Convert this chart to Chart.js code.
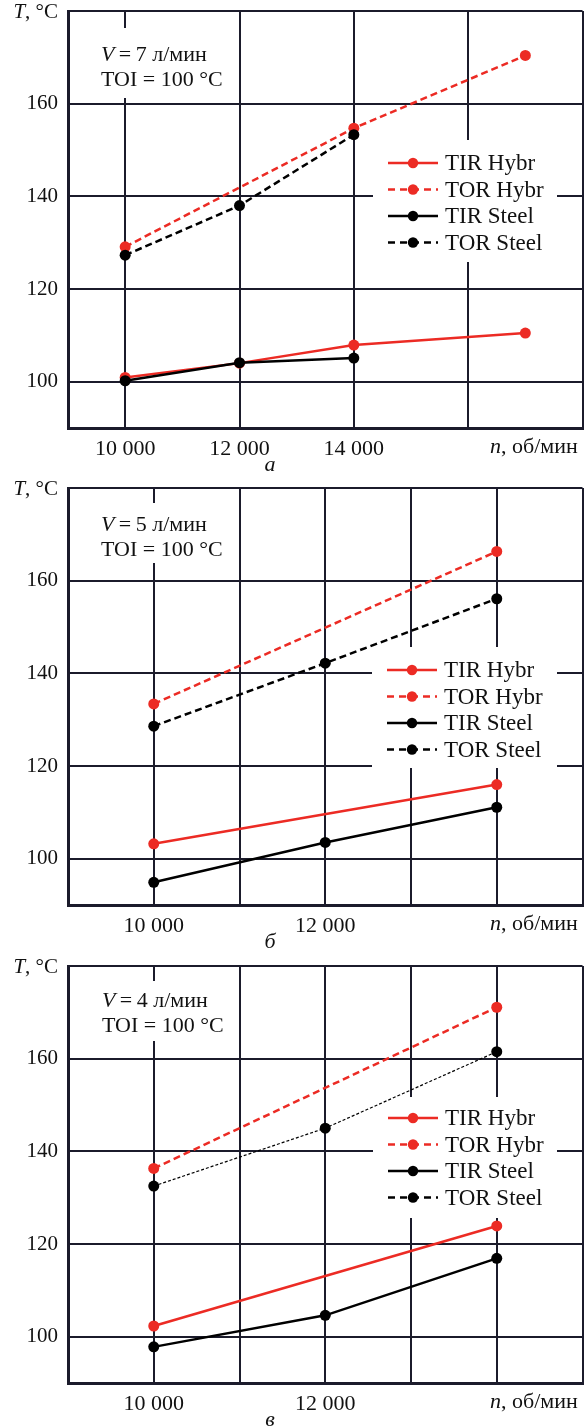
<!DOCTYPE html>
<html><head><meta charset="utf-8">
<script src="https://cdn.jsdelivr.net/npm/chart.js@4.4.1/dist/chart.umd.min.js"></script>
<style>
html,body{margin:0;padding:0;background:#fff;overflow:hidden;width:588px;height:1427px}
.panel{position:absolute;left:0;width:588px;height:477px}
canvas{display:block}
</style></head><body>
<div class="panel" style="top:0"><canvas id="cA" width="588" height="477"></canvas></div>
<div class="panel" style="top:477px"><canvas id="cB" width="588" height="477"></canvas></div>
<div class="panel" style="top:955px"><canvas id="cC" width="588" height="477"></canvas></div>
<script>
// ---------- DATA ----------
const seriesNames = ['TIR Hybr', 'TOR Hybr', 'TIR Steel', 'TOR Steel'];
const yTicks = [100, 120, 140, 160, 180];

// Panel а : V = 7 л/мин
const a_xTicks = [10000, 12000, 14000, 16000, 18000];
const a_xLabels = ['10 000', '12 000', '14 000', '', ''];
const a_TIR_Hybr_rpm = [10000, 12000, 14000, 17000];
const a_TIR_Hybr_T   = [100.9, 104.0, 107.9, 110.5];
const a_TOR_Hybr_rpm = [10000, 14000, 17000];
const a_TOR_Hybr_T   = [129.1, 154.7, 170.4];
const a_TIR_Steel_rpm = [10000, 12000, 14000];
const a_TIR_Steel_T   = [100.2, 104.1, 105.1];
const a_TOR_Steel_rpm = [10000, 12000, 14000];
const a_TOR_Steel_T   = [127.3, 138.0, 153.3];

// Panel б : V = 5 л/мин
const b_xTicks = [10000, 11000, 12000, 13000, 14000, 15000];
const b_xLabels = ['10 000', '', '12 000', '', '', ''];
const b_TIR_Hybr_rpm = [10000, 14000];
const b_TIR_Hybr_T   = [103.2, 116.0];
const b_TOR_Hybr_rpm = [10000, 14000];
const b_TOR_Hybr_T   = [133.4, 166.3];
const b_TIR_Steel_rpm = [10000, 12000, 14000];
const b_TIR_Steel_T   = [94.9, 103.5, 111.1];
const b_TOR_Steel_rpm = [10000, 12000, 14000];
const b_TOR_Steel_T   = [128.6, 142.2, 156.1];

// Panel в : V = 4 л/мин
const c_xTicks = [10000, 11000, 12000, 13000, 14000, 15000];
const c_xLabels = ['10 000', '', '12 000', '', '', ''];
const c_TIR_Hybr_rpm = [10000, 14000];
const c_TIR_Hybr_T   = [102.3, 123.9];
const c_TOR_Hybr_rpm = [10000, 14000];
const c_TOR_Hybr_T   = [136.3, 171.1];
const c_TIR_Steel_rpm = [10000, 12000, 14000];
const c_TIR_Steel_T   = [97.8, 104.6, 116.9];
const c_TOR_Steel_rpm = [10000, 12000, 14000];
const c_TOR_Steel_T   = [132.5, 145.0, 161.5];

// ---------- STYLE ----------
const RED = '#ec2b24';
const BLK = '#000000';
const GRID = '#1b1b2b';
const TXT = '#111111';
const FAM = "'Liberation Serif', 'DejaVu Serif', serif";

function pts(xs, ys) { return xs.map((x, i) => ({x: x, y: ys[i]})); }

function ds(label, data, color, dash, width, order) {
  return {
    label: label, data: data, borderColor: color, backgroundColor: color,
    pointBackgroundColor: color, pointBorderColor: color, pointBorderWidth: 0,
    pointRadius: 5.5, borderWidth: width, borderDash: dash, tension: 0, order: order
  };
}

const legendStyles = [
  {color: RED, dash: []}, {color: RED, dash: [7, 5]},
  {color: BLK, dash: []}, {color: BLK, dash: [7, 5]}
];

function annotPlugin(cfg) {
  return {
    id: 'annot',
    beforeDatasetsDraw(chart) {
      const ctx = chart.ctx;
      ctx.save();
      ctx.fillStyle = '#fff';
      ctx.fillRect(cfg.tb[0], cfg.tb[1], cfg.tb[2], cfg.tb[3]);
      ctx.fillRect(cfg.lb[0], cfg.lb[1], cfg.lb[2], cfg.lb[3]);
      ctx.restore();
    },
    afterDraw(chart) {
      const ctx = chart.ctx;
      const ca = chart.chartArea;
      ctx.save();
      ctx.fillStyle = TXT;
      ctx.textBaseline = 'middle';
      // text box
      ctx.textAlign = 'left';
      ctx.font = 'italic 22px ' + FAM;
      ctx.fillText('V', cfg.tx, cfg.ty1);
      let w = ctx.measureText('V').width;
      ctx.font = '22px ' + FAM;
      ctx.fillText('\u2009=\u2009' + cfg.vval + ' л/мин', cfg.tx + w, cfg.ty1);
      ctx.fillText('TOI = 100 °C', cfg.tx, cfg.ty2);
      // T, °C
      ctx.textAlign = 'right';
      ctx.font = '21px ' + FAM;
      ctx.fillText(', °C', ca.left - 10, ca.top + 1);
      w = ctx.measureText(', °C').width;
      ctx.font = 'italic 21px ' + FAM;
      ctx.fillText('T', ca.left - 10 - w, ca.top + 1);
      // n, об/мин
      ctx.textAlign = 'left';
      ctx.font = 'italic 22px ' + FAM;
      const ny = ca.bottom + 19;
      ctx.fillText('n', 490, ny);
      w = ctx.measureText('n').width;
      ctx.font = '22px ' + FAM;
      ctx.fillText(', об/мин', 490 + w, ny);
      // caption letter
      ctx.textAlign = 'center';
      ctx.font = 'italic 22px ' + FAM;
      ctx.fillText(cfg.letter, 270, ca.bottom + 37);
      // legend
      const lx = cfg.lb[0], ly0 = cfg.ly, step = 26.5;
      for (let i = 0; i < 4; i++) {
        const y = ly0 + i * step;
        const st = legendStyles[i];
        ctx.strokeStyle = st.color;
        ctx.lineWidth = 2.5;
        ctx.setLineDash(st.dash);
        ctx.beginPath();
        ctx.moveTo(lx + 15, y); ctx.lineTo(lx + 65, y);
        ctx.stroke();
        ctx.setLineDash([]);
        ctx.fillStyle = st.color;
        ctx.beginPath();
        ctx.arc(lx + 40, y, 5.2, 0, Math.PI * 2);
        ctx.fill();
        ctx.fillStyle = TXT;
        ctx.textAlign = 'left';
        ctx.font = '23px ' + FAM;
        ctx.fillText(seriesNames[i], lx + 72, y + 1);
      }
      ctx.restore();
    }
  };
}

function makeChart(id, xMin, xMax, xTicks, xLabels, datasets, cfg) {
  return new Chart(document.getElementById(id), {
    type: 'line',
    data: {datasets: datasets},
    plugins: [annotPlugin(cfg)],
    options: {
      responsive: false, animation: false, devicePixelRatio: 1,
      layout: {padding: {top: 11, right: 2, left: 0, bottom: 0}},
      plugins: {legend: {display: false}, tooltip: {enabled: false}},
      scales: {
        x: {
          type: 'linear', min: xMin, max: xMax,
          afterBuildTicks: (s) => { s.ticks = xTicks.map(v => ({value: v})); },
          afterFit: (s) => { s.height = 49; s.paddingLeft = 0; s.paddingRight = 0; },
          grid: {color: GRID, lineWidth: 2, drawTicks: false},
          border: {color: GRID, width: 3},
          ticks: {
            autoSkip: false, maxRotation: 0, padding: 8, color: TXT,
            font: {family: FAM, size: 22},
            callback: (v) => { const i = xTicks.indexOf(v); return i >= 0 ? xLabels[i] : ''; }
          }
        },
        y: {
          min: 90, max: 180,
          afterBuildTicks: (s) => { s.ticks = yTicks.map(v => ({value: v})); },
          afterFit: (s) => { s.width = 68; s.paddingTop = 0; s.paddingBottom = 0; },
          grid: {color: GRID, lineWidth: 2, drawTicks: false},
          border: {color: GRID, width: 3},
          ticks: {
            padding: 10, color: TXT, font: {family: FAM, size: 21},
            callback: (v) => (v === 180 ? '' : String(v))
          }
        }
      }
    }
  });
}

makeChart('cA', 9000, 18000, a_xTicks, a_xLabels, [
  ds('TIR Hybr', pts(a_TIR_Hybr_rpm, a_TIR_Hybr_T), RED, [], 2.5, 1),
  ds('TOR Hybr', pts(a_TOR_Hybr_rpm, a_TOR_Hybr_T), RED, [7, 4], 2.5, 1),
  ds('TIR Steel', pts(a_TIR_Steel_rpm, a_TIR_Steel_T), BLK, [], 2.5, 0),
  ds('TOR Steel', pts(a_TOR_Steel_rpm, a_TOR_Steel_T), BLK, [7, 4], 2.5, 0)
], {tb: [90, 28, 146, 70], tx: 101, ty1: 55, ty2: 80, vval: '7', lb: [373, 140, 184, 122], ly: 163, letter: 'а'});

makeChart('cB', 9000, 15000, b_xTicks, b_xLabels, [
  ds('TIR Hybr', pts(b_TIR_Hybr_rpm, b_TIR_Hybr_T), RED, [], 2.5, 1),
  ds('TOR Hybr', pts(b_TOR_Hybr_rpm, b_TOR_Hybr_T), RED, [7, 4], 2.5, 1),
  ds('TIR Steel', pts(b_TIR_Steel_rpm, b_TIR_Steel_T), BLK, [], 2.5, 0),
  ds('TOR Steel', pts(b_TOR_Steel_rpm, b_TOR_Steel_T), BLK, [7, 4], 2.5, 0)
], {tb: [90, 26, 146, 60], tx: 101, ty1: 48, ty2: 73, vval: '5', lb: [372, 170, 185, 121], ly: 193, letter: 'б'});

makeChart('cC', 9000, 15000, c_xTicks, c_xLabels, [
  ds('TIR Hybr', pts(c_TIR_Hybr_rpm, c_TIR_Hybr_T), RED, [], 2.5, 1),
  ds('TOR Hybr', pts(c_TOR_Hybr_rpm, c_TOR_Hybr_T), RED, [7, 4], 2.5, 1),
  ds('TIR Steel', pts(c_TIR_Steel_rpm, c_TIR_Steel_T), BLK, [], 2.5, 0),
  ds('TOR Steel', pts(c_TOR_Steel_rpm, c_TOR_Steel_T), BLK, [3, 2], 1.2, 0)
], {tb: [90, 26, 146, 60], tx: 102, ty1: 46, ty2: 71, vval: '4', lb: [373, 142, 184, 121], ly: 163, letter: 'в'});
</script>
</body></html>
